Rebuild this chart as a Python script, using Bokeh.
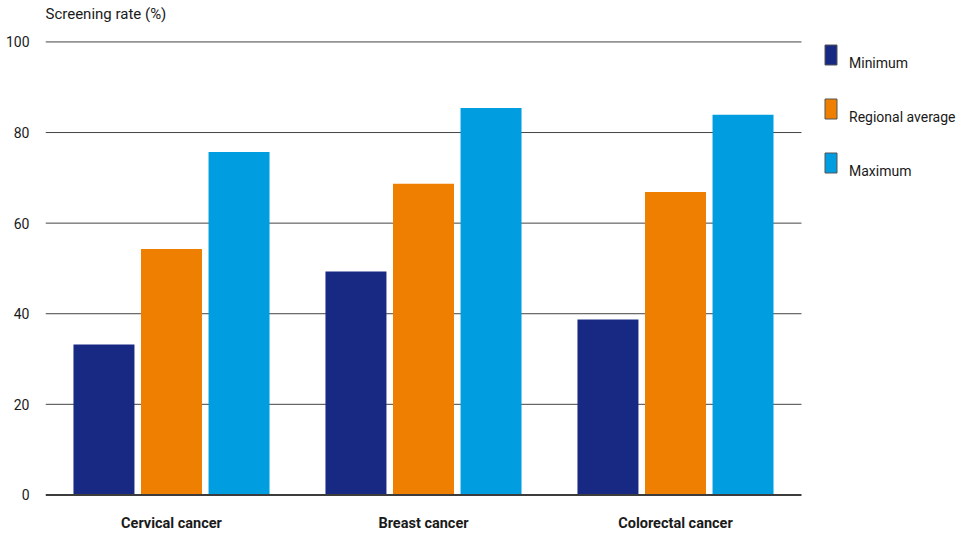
from bokeh.plotting import figure
from bokeh.models import (Range1d, ColumnDataSource, Legend, LegendItem, Label, FixedTicker)
from bokeh.embed import file_html
from bokeh.resources import INLINE

categories = ["Cervical cancer", "Breast cancer", "Colorectal cancer"]
minimum = [33.2, 49.3, 38.7]
regional_average = [54.3, 68.7, 66.9]
maximum = [75.7, 85.4, 83.9]
series_names = ["Minimum", "Regional average", "Maximum"]
y_ticks = [0, 20, 40, 60, 80, 100]

colors = ["#172983", "#ee7f00", "#009ee0"]
FONT = "Roboto"
TXT = "#1a1a1a"

n = len(categories)
centers = [i + 0.5 for i in range(n)]

# frame spans from the plot's left edge to the window's right edge (legend lives inside it)
p = figure(width=963, height=534, x_range=Range1d(0, 3.6429), y_range=Range1d(-0.35, 109.15),
           output_backend="svg", toolbar_location=None,
           min_border_left=45, min_border_right=0, min_border_top=0, min_border_bottom=38)
p.outline_line_color = None
p.xgrid.grid_line_color = None
p.ygrid.grid_line_color = None

# grid lines limited to the category area
grid_src = ColumnDataSource(dict(y=y_ticks[1:], x0=[0] * (len(y_ticks) - 1), x1=[n] * (len(y_ticks) - 1)))
p.segment(x0="x0", x1="x1", y0="y", y1="y", source=grid_src, line_color="#444444", line_width=1)

offsets = [-0.268, 0.0, 0.268]
series = [minimum, regional_average, maximum]
for vals, off, c in zip(series, offsets, colors):
    src = ColumnDataSource(dict(x=[cx + off for cx in centers], top=vals))
    p.vbar(x="x", top="top", width=0.242, source=src, fill_color=c, line_color=None)

# baseline
p.segment(x0=[0], x1=[n], y0=[y_ticks[0]], y1=[y_ticks[0]], line_color="#3c3c3c", line_width=2)

# legend swatches (zero-size proxies with outline, as in the reference legend)
swatch_items = []
text_items = []
for name, c in zip(series_names, colors):
    r = p.vbar(x=[0], top=[0], bottom=[0], width=0, fill_color=c,
               line_color="#555555", line_width=1)
    swatch_items.append(LegendItem(label=" ", renderers=[r]))
    r2 = p.vbar(x=[0], top=[0], bottom=[0], width=0, fill_alpha=0, line_alpha=0)
    text_items.append(LegendItem(label=name, renderers=[r2]))

swatches = Legend(items=swatch_items, location=(778, 321), orientation="vertical",
                  glyph_width=15, glyph_height=25, spacing=29, padding=0, margin=0,
                  label_standoff=0, label_text_font_size="8px",
                  border_line_color=None, background_fill_alpha=0)
p.add_layout(swatches)

labels = Legend(items=text_items, location=(778, 313), orientation="vertical",
                glyph_width=0, glyph_height=25, spacing=29, padding=0, margin=0,
                label_standoff=26, label_text_font=FONT, label_text_font_size="14px",
                label_text_color=TXT, border_line_color=None, background_fill_alpha=0)
p.add_layout(labels)

# axis title
p.add_layout(Label(x=0, y=100, y_offset=28, text="Screening rate (%)", text_font=FONT,
                   text_font_size="15px", text_color=TXT, text_baseline="middle",
                   text_align="left"))

# axes
p.xaxis.ticker = FixedTicker(ticks=centers)
p.xaxis.major_label_overrides = {c: lab for c, lab in zip(centers, categories)}
p.xaxis.axis_line_color = None
p.xaxis.major_tick_line_color = None
p.xaxis.minor_tick_line_color = None
p.xaxis.major_tick_out = 0
p.xaxis.major_tick_in = 0
p.xaxis.major_label_standoff = 18
p.xaxis.major_label_text_font = FONT
p.xaxis.major_label_text_font_style = "bold"
p.xaxis.major_label_text_font_size = "14.5px"
p.xaxis.major_label_text_color = TXT

p.yaxis.ticker = FixedTicker(ticks=y_ticks)
p.yaxis.axis_line_color = None
p.yaxis.major_tick_line_color = None
p.yaxis.minor_tick_line_color = None
p.yaxis.major_tick_out = 0
p.yaxis.major_tick_in = 0
p.yaxis.major_label_standoff = 16
p.yaxis.major_label_text_font = FONT
p.yaxis.major_label_text_font_size = "14px"
p.yaxis.major_label_text_color = TXT
p.yaxis.major_label_text_baseline = "alphabetic"

open("out.html", "w").write(file_html(p, INLINE))
